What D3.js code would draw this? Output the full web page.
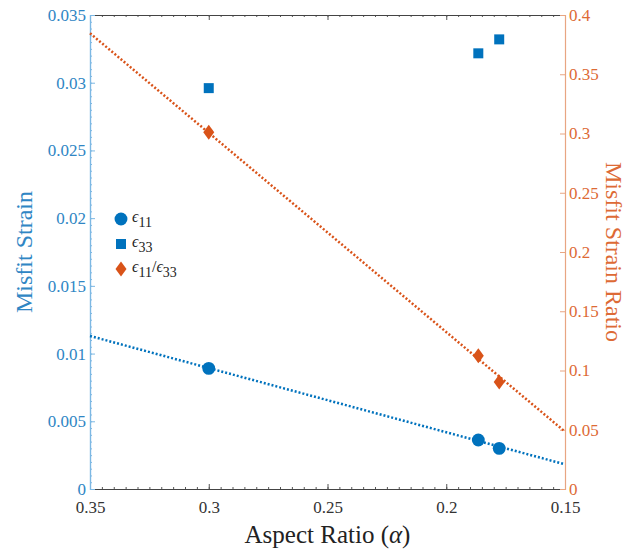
<!DOCTYPE html>
<html>
<head>
<meta charset="utf-8">
<script src="https://cdn.jsdelivr.net/npm/d3@7"></script>
</head>
<body style="margin:0;padding:0;background:#fff">
<svg id="chart" width="631" height="552" style="display:block"></svg>
<script>
// Aspect ratios of the measured samples
const alpha = [0.30, 0.1865, 0.1777];
// Misfit strain components (left axis)
const eps11 = [0.00891, 0.00362, 0.00300];
const eps33 = [0.0296, 0.03217, 0.0332];
// Ratio eps11/eps33 (right axis)
const ratio = [0.301, 0.1125, 0.0904];
// Linear fits, evaluated at the ends of the alpha range
const fitAlpha = [0.35, 0.15];
const fitEps11 = [0.0113, 0.00182];
const fitRatio = [0.3846, 0.0484];
// Tick values
const xTicks = [0.35, 0.3, 0.25, 0.2, 0.15];
const yLeftTicks = [0, 0.005, 0.01, 0.015, 0.02, 0.025, 0.03, 0.035];
const yRightTicks = [0, 0.05, 0.1, 0.15, 0.2, 0.25, 0.3, 0.35, 0.4];

const BLUE = "#0072BD";
const ORANGE = "#D95319";
const BLUE_TXT = "#2f86c4";
const ORANGE_TXT = "#dd6a35";
const SERIF = "'Liberation Serif', 'Times New Roman', serif";

const m = { left: 90, right: 66, top: 15, bottom: 63 };
const W = 631, H = 552;
const svg = d3.select("#chart");

const x = d3.scaleLinear().domain([0.35, 0.15]).range([m.left, W - m.right]);
const yL = d3.scaleLinear().domain([0, 0.035]).range([H - m.bottom, m.top]);
const yR = d3.scaleLinear().domain([0, 0.4]).range([H - m.bottom, m.top]);

const fmt = d => d === 0 ? "0" : String(+d.toFixed(4));

// Bottom axis with minor ticks
const xMinor = d3.range(0, 41).map(i => 0.15 + i * 0.005);
const gx = svg.append("g").attr("transform", `translate(0,${H - m.bottom})`);
gx.call(d3.axisBottom(x).tickValues(xMinor).tickSize(-2).tickFormat(""));
gx.call(g => g.append("g").call(d3.axisBottom(x).tickValues(xTicks).tickSize(-5).tickFormat(fmt)));
gx.selectAll("path").attr("stroke", "#444").attr("stroke-width", 1);
gx.selectAll("line").attr("stroke", "#555");
gx.selectAll("text").attr("fill", "#333").attr("font-size", 17).attr("y", 9).attr("dy", "0.9em");

// Top frame line with mirrored ticks
const gt = svg.append("g").attr("transform", `translate(0,${m.top})`);
gt.call(d3.axisTop(x).tickValues(xMinor).tickSize(-2).tickFormat(""));
gt.call(g => g.append("g").call(d3.axisTop(x).tickValues(xTicks).tickSize(-5).tickFormat("")));
gt.selectAll("path").attr("stroke", "#444").attr("stroke-width", 1);
gt.selectAll("line").attr("stroke", "#555");

// Left axis (misfit strain)
const yMinor = d3.range(0, 71).map(i => i * 0.0005);
const gl = svg.append("g").attr("transform", `translate(${m.left},0)`);
gl.call(d3.axisLeft(yL).tickValues(yMinor).tickSize(-2).tickFormat(""));
gl.call(g => g.append("g").call(d3.axisLeft(yL).tickValues(yLeftTicks).tickSize(-5).tickFormat(fmt)));
gl.selectAll("path").attr("stroke", "#7db8e3").attr("stroke-width", 1.2);
gl.selectAll("line").attr("stroke", "#7db8e3");
gl.selectAll("text").attr("fill", BLUE_TXT).attr("font-size", 17).attr("x", -4);

// Right axis (ratio)
const gr = svg.append("g").attr("transform", `translate(${W - m.right},0)`);
gr.call(d3.axisRight(yR).tickValues(yRightTicks).tickSize(-5).tickFormat(fmt));
gr.selectAll("path").attr("stroke", "#e8a582").attr("stroke-width", 1.2);
gr.selectAll("line").attr("stroke", "#e8a582");
gr.selectAll("text").attr("fill", ORANGE_TXT).attr("font-size", 17).attr("x", 4);

// d3 axes default to sans-serif; use the serif face instead
[gx, gt, gl, gr].forEach(g => {
  g.attr("font-family", null).style("font-family", SERIF);
  g.selectAll("g").attr("font-family", null);
});

// Fit lines (dotted)
const lineL = d3.line().x((d, i) => x(fitAlpha[i])).y(d => yL(d));
const lineR = d3.line().x((d, i) => x(fitAlpha[i])).y(d => yR(d));
svg.append("path").datum(fitEps11).attr("d", lineL)
  .attr("fill", "none").attr("stroke", BLUE).attr("stroke-width", 2.5)
  .attr("stroke-dasharray", "2,2");
svg.append("path").datum(fitRatio).attr("d", lineR)
  .attr("fill", "none").attr("stroke", ORANGE).attr("stroke-width", 2.5)
  .attr("stroke-dasharray", "2,2");

const sym = (type, size) => d3.symbol().type(type).size(size)();
const diamond = "M0,-7.5L5.5,0L0,7.5L-5.5,0Z";

// Data markers
svg.append("g").selectAll("path").data(eps11).join("path")
  .attr("transform", (d, i) => `translate(${x(alpha[i])},${yL(d)})`)
  .attr("d", sym(d3.symbolCircle, 130)).attr("fill", BLUE);
svg.append("g").selectAll("path").data(eps33).join("path")
  .attr("transform", (d, i) => `translate(${x(alpha[i])},${yL(d)})`)
  .attr("d", sym(d3.symbolSquare, 100)).attr("fill", BLUE);
svg.append("g").selectAll("path").data(ratio).join("path")
  .attr("transform", (d, i) => `translate(${x(alpha[i])},${yR(d)})`)
  .attr("d", diamond).attr("fill", ORANGE);

// Legend
const legend = svg.append("g").attr("transform", "translate(121,219)");
const items = [
  { d: sym(d3.symbolCircle, 130), c: BLUE, sub: ["11"] },
  { d: sym(d3.symbolSquare, 100), c: BLUE, sub: ["33"] },
  { d: diamond, c: ORANGE, sub: ["11", "33"] }
];
items.forEach((it, i) => {
  const g = legend.append("g").attr("transform", `translate(0,${i * 25})`);
  g.append("path").attr("d", it.d).attr("fill", it.c);
  const t = g.append("text").attr("x", 11).attr("y", 3).attr("font-size", 16).attr("fill", "#222");
  t.append("tspan").attr("font-style", "italic").text("ϵ");
  t.append("tspan").attr("dy", 5).attr("font-size", 14).text(it.sub[0]);
  if (it.sub.length > 1) {
    t.append("tspan").attr("dy", -5).attr("font-size", 16).text("/");
    t.append("tspan").attr("font-style", "italic").attr("font-size", 16).text("ϵ");
    t.append("tspan").attr("dy", 5).attr("font-size", 14).text(it.sub[1]);
  }
});

// Axis titles
const xt = svg.append("text").attr("x", (m.left + W - m.right) / 2).attr("y", 543)
  .attr("text-anchor", "middle").attr("font-size", 25).attr("fill", "#222");
xt.append("tspan").text("Aspect Ratio (");
xt.append("tspan").attr("font-style", "italic").text("α");
xt.append("tspan").text(")");

svg.append("text").attr("transform", `translate(32,${(m.top + H - m.bottom) / 2}) rotate(-90)`)
  .attr("text-anchor", "middle").attr("font-size", 24).attr("fill", BLUE_TXT).text("Misfit Strain");

svg.append("text").attr("transform", `translate(606,${(m.top + H - m.bottom) / 2}) rotate(90)`)
  .attr("text-anchor", "middle").attr("font-size", 24).attr("fill", ORANGE_TXT).text("Misfit Strain Ratio");

// Serif face for every label
svg.selectAll("text").style("font-family", SERIF);
</script>
</body>
</html>
